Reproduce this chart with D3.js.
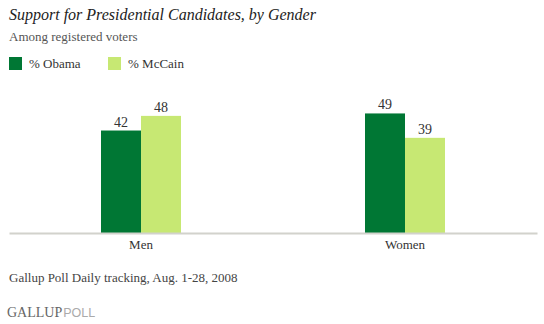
<!DOCTYPE html>
<html><head><meta charset="utf-8">
<script src="https://cdn.jsdelivr.net/npm/d3@7"></script>
<style>body{margin:0;background:#fff}svg{display:block}</style>
</head><body>
<svg id="c" width="544" height="324"></svg>
<script>
const categories = ["Men", "Women"];
const seriesNames = ["% Obama", "% McCain"];
const obama = [42, 49];
const mccain = [48, 39];
const colors = ["#007734", "#c7e873"];

const svg = d3.select("#c");
const serif = "'Liberation Serif', 'Times New Roman', serif";

svg.append("text").attr("x", 9).attr("y", 20).attr("font-family", serif)
  .attr("font-style", "italic").attr("font-size", 16).attr("fill", "#222")
  .text("Support for Presidential Candidates, by Gender");
svg.append("text").attr("x", 9).attr("y", 41).attr("font-family", serif)
  .attr("font-size", 13).attr("fill", "#555").text("Among registered voters");

const lg = svg.append("g");
seriesNames.forEach((n, i) => {
  const x0 = 9 + i * 99;
  lg.append("rect").attr("x", x0).attr("y", 57).attr("width", 13).attr("height", 13).attr("fill", colors[i]);
  lg.append("text").attr("x", x0 + 20).attr("y", 67.5).attr("font-family", serif)
    .attr("font-size", 13).attr("fill", "#333").text(n);
});

const x = d3.scaleBand().domain(categories).range([9, 537]);
const y = d3.scaleLinear().domain([0, 50]).range([233, 111]);
const barW = 40;
const data = categories.map((c, i) => ({c, vals: [obama[i], mccain[i]]}));

const g = svg.append("g");
data.forEach(d => {
  const cx = x(d.c) + x.bandwidth() / 2;
  d.vals.forEach((v, j) => {
    const bx = cx - barW + j * barW;
    g.append("rect").attr("x", bx).attr("y", y(v)).attr("width", barW)
      .attr("height", y(0) - y(v)).attr("fill", colors[j]);
    g.append("text").attr("x", bx + barW / 2).attr("y", y(v) - 4)
      .attr("text-anchor", "middle").attr("font-family", serif)
      .attr("font-size", 14).attr("fill", "#333").text(v);
  });
});

const axis = svg.append("g").attr("transform", "translate(0,233)")
  .call(d3.axisBottom(x).tickSize(0).tickPadding(7));
axis.select(".domain").attr("stroke", "#d2d2cc").attr("stroke-width", 2);
axis.selectAll("text").attr("font-family", serif).attr("font-size", 13).attr("fill", "#333");

svg.append("text").attr("x", 9).attr("y", 282).attr("font-family", serif)
  .attr("font-size", 13).attr("fill", "#444").text("Gallup Poll Daily tracking, Aug. 1-28, 2008");

const logo = svg.append("text").attr("x", 7).attr("y", 317);
logo.append("tspan").attr("font-family", serif).attr("font-size", 14).attr("fill", "#666").text("GALLUP");
logo.append("tspan").attr("font-family", "Arial, 'Liberation Sans', sans-serif").attr("font-size", 12.5)
  .attr("fill", "#aaa").attr("dx", 1).text("POLL");
</script>
</body></html>
